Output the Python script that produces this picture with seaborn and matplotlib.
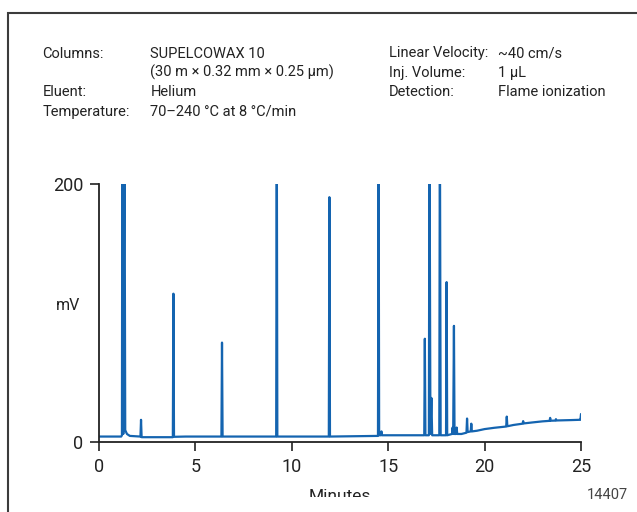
import matplotlib
matplotlib.use('Agg')
import matplotlib.pyplot as plt
from matplotlib.patches import Rectangle
from matplotlib.transforms import Bbox, TransformedBbox
import seaborn as sns

# chromatogram trace (minutes, mV); off-scale peaks go past 200
time_min = [
    0.00, 1.15,
    1.19, 1.21, 1.26, 1.32, 1.36,
    1.45, 1.60,
    2.15, 2.18, 2.21,
    2.60, 3.83, 3.86, 3.89,
    4.50, 6.35, 6.38, 6.41,
    9.19, 9.22, 9.25,
    11.92, 11.95, 11.98,
    14.47, 14.50, 14.53, 14.62, 14.65, 14.68,
    16.50, 16.87, 16.90, 16.93,
    17.11, 17.14, 17.19, 17.24, 17.28,
    17.65, 17.68, 17.72,
    18.00, 18.03, 18.06,
    18.31, 18.34, 18.37, 18.41, 18.44, 18.52, 18.55, 18.58,
    18.80, 19.06, 19.09, 19.12, 19.28, 19.31, 19.34,
    19.60, 20.00, 20.50, 21.00, 21.12, 21.15, 21.18,
    21.50, 21.97, 22.00, 22.03, 22.50, 23.00,
    23.37, 23.40, 23.43, 23.67, 23.70, 23.73,
    24.00, 24.50, 24.90, 24.97, 25.00,
]
signal_mv = [
    4, 4,
    5, 260, 6, 260, 9,
    6, 4.5,
    4, 17, 3.5,
    3.5, 3.5, 115, 3.8,
    4, 4, 77, 4,
    4, 260, 4,
    4, 190, 4,
    4.5, 260, 5, 5, 8, 5,
    5, 5, 80, 5,
    5, 260, 6, 34, 5,
    5, 260, 5,
    5, 124, 5,
    6, 11, 6, 90, 6, 6, 11, 6,
    6, 7, 18, 7.5, 8, 14, 8,
    8.5, 9.8, 10.8, 11.6, 11.8, 19.5, 12,
    13, 14, 16, 14.2, 15, 15.8,
    16.2, 18.5, 16.3, 16.4, 17.5, 16.5,
    16.6, 16.8, 17, 17, 21.5,
]

x_ticks = [0, 5, 10, 15, 20, 25]
y_ticks = [0, 200]

left_labels = ['Columns:', '', 'Eluent:', 'Temperature:']
left_values = ['SUPELCOWAX 10', '(30 m \u00d7 0.32 mm \u00d7 0.25 \u00b5m)',
               'Helium', '70\u2013240 \u00b0C at 8 \u00b0C/min']
right_labels = ['Linear Velocity:', 'Inj. Volume:', 'Detection:']
right_values = ['~40 cm/s', '1 \u00b5L', 'Flame ionization']

sns.set_style('ticks')
plt.rcParams['font.family'] = ['Roboto', 'DejaVu Sans']

W, H = 637, 512
fig = plt.figure(figsize=(W / 100, H / 100), dpi=100)
ax = fig.add_axes([99 / W, 1 - 441.7 / H, 482 / W, 257.4 / H])

sns.lineplot(x=time_min, y=signal_mv, ax=ax, color='#1464b0', linewidth=1.6,
             estimator=None, sort=False)

ax.set_xlim(0, 25)
ax.set_ylim(0, 200)
ax.set_xticks(x_ticks)
ax.set_yticks(y_ticks)
sns.despine(ax=ax)
for s in ['left', 'bottom']:
    ax.spines[s].set_linewidth(1.3)
    ax.spines[s].set_color('#222222')
ax.tick_params(direction='out', length=6.5, width=1.2, color='#222222',
               labelsize=13, labelcolor='#222222', pad=5)

fig.text(80 / W, 1 - 305 / H, 'mV', ha='right', va='center', fontsize=11.5,
         color='#222222')
mins = fig.text(340 / W, 1 - 489 / H, 'Minutes', ha='center', va='top',
                fontsize=12.5, color='#222222')
mins.set_clip_box(TransformedBbox(Bbox([[0, 15 / H], [1, 1]]), fig.transFigure))
mins.set_clip_on(True)
fig.text(628 / W, 1 - 495 / H, '14407', ha='right', va='center', fontsize=10.5,
         color='#444444')

# header block
fs = 10.5
rows_y = [57.5, 77, 96.5, 116]
for i, (lab, val) in enumerate(zip(left_labels, left_values)):
    y = 1 - rows_y[i] / H
    fig.text(42.5 / W, y, lab, ha='left', va='baseline', fontsize=fs, color='#222222')
    fig.text(150.5 / W, y, val, ha='left', va='baseline', fontsize=fs, color='#222222')
for i, (lab, val) in enumerate(zip(right_labels, right_values)):
    y = 1 - rows_y[i] / H
    fig.text(389 / W, y, lab, ha='left', va='baseline', fontsize=fs, color='#222222')
    fig.text(498 / W, y, val, ha='left', va='baseline', fontsize=fs, color='#222222')

# frame cut by the image edges
fig.patches.append(Rectangle((8 / W, -0.1), 2, 1.1 - 12.5 / H, fill=False,
                             edgecolor='#3c3c3c', linewidth=1.5,
                             transform=fig.transFigure, clip_on=False))

fig.savefig('out.png', dpi=100)
